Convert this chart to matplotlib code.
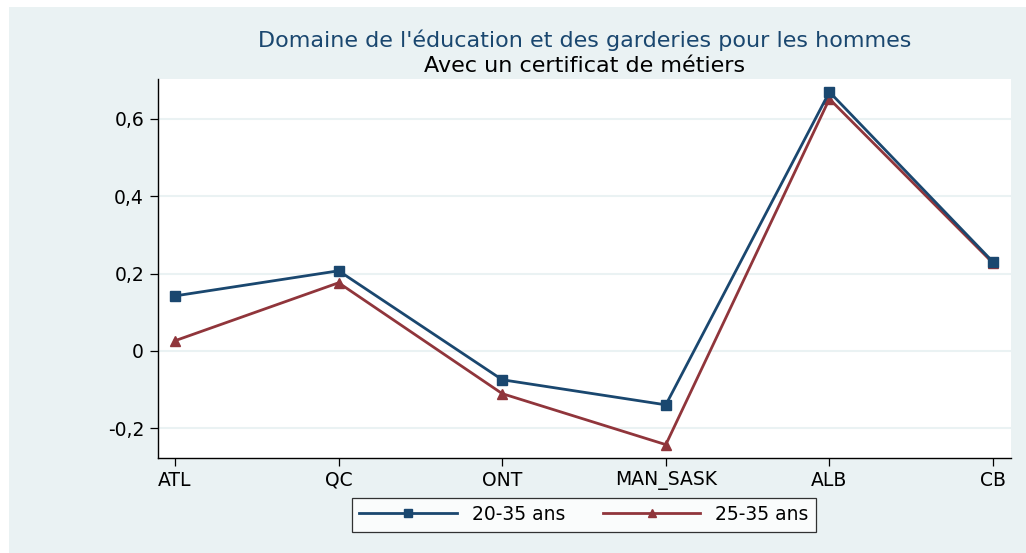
import matplotlib

matplotlib.use("Agg")
import matplotlib.pyplot as plt
from matplotlib.patches import Rectangle

regions = ["ATL", "QC", "ONT", "MAN_SASK", "ALB", "CB"]
age_20_35 = [0.142, 0.207, -0.075, -0.140, 0.670, 0.230]
age_25_35 = [0.026, 0.176, -0.111, -0.243, 0.652, 0.227]
yticks = [-0.2, 0, 0.2, 0.4, 0.6]
ytick_labels = ["-0,2", "0", "0,2", "0,4", "0,6"]

C_BLUE = "#1A476F"
C_RED = "#90353B"
C_BG = "#EAF2F3"

plt.rcParams["font.family"] = ["DejaVu Sans"]

fig = plt.figure(figsize=(10.26, 5.53), dpi=100, facecolor="white")
fig.patches.append(Rectangle((9 / 1026, 0), 1, 1 - 7 / 553, transform=fig.transFigure,
                             facecolor=C_BG, edgecolor="none", zorder=-10))
ax = fig.add_axes([158 / 1026, 1 - 458 / 553, (1011 - 158) / 1026, (458 - 79) / 553])
ax.set_facecolor("white")

x = list(range(len(regions)))
ax.plot(x, age_20_35, "-s", color=C_BLUE, lw=2.0, ms=7, label="20-35 ans", zorder=4)
ax.plot(x, age_25_35, "-^", color=C_RED, lw=2.0, ms=7.5, label="25-35 ans", zorder=3)

ax.set_xlim(-0.104, 5.11)
ax.set_ylim(-0.2776, 0.7035)
ax.set_xticks(x)
ax.set_xticklabels(regions)
ax.set_yticks(yticks)
ax.set_yticklabels(ytick_labels)
ax.tick_params(axis="both", labelsize=13.5, length=6, width=0.9, colors="black")
ax.tick_params(axis="x", pad=3)
ax.tick_params(axis="y", pad=4)
ax.grid(axis="y", color=C_BG, lw=1.5)
ax.set_axisbelow(True)
for s in ("top", "right"):
    ax.spines[s].set_visible(False)
for s in ("left", "bottom"):
    ax.spines[s].set_linewidth(1.0)

fig.text(584.5 / 1026, 1 - 40 / 553, "Domaine de l'éducation et des garderies pour les hommes",
         ha="center", va="center", fontsize=16, color=C_BLUE)
fig.text(584.5 / 1026, 1 - 66 / 553, "Avec un certificat de métiers",
         ha="center", va="center", fontsize=16, color="black")

leg = fig.legend(loc="center", bbox_to_anchor=(584 / 1026, 1 - 514.5 / 553), ncol=2,
                 fontsize=13.5, frameon=True, fancybox=False, edgecolor="black",
                 handlelength=5.2, columnspacing=2.0, handletextpad=0.8, borderpad=0.4,
                 markerscale=0.8)
leg.get_frame().set_linewidth(0.9)

fig.savefig("out.png", dpi=100, facecolor=fig.get_facecolor())
